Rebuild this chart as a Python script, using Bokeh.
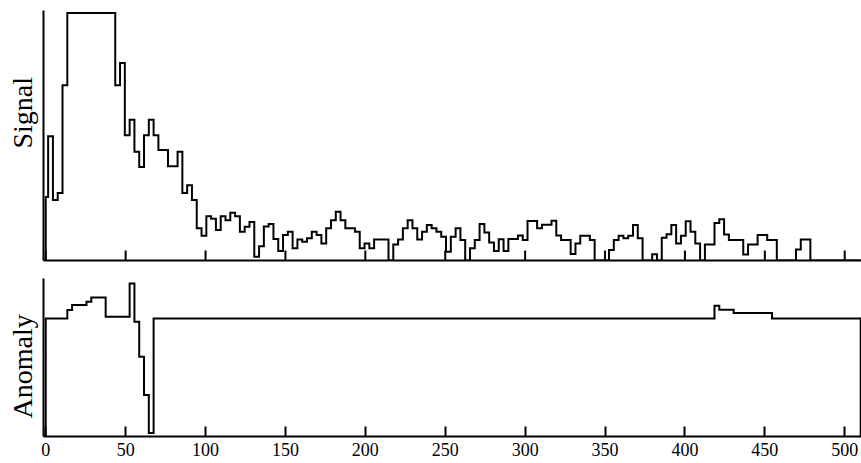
import numpy as np
from bokeh.plotting import figure
from bokeh.layouts import column
from bokeh.models import FixedTicker, Range1d, Title
from bokeh.embed import file_html
from bokeh.resources import INLINE

# ---- data ----
sample_spacing = 3  # x distance between samples
signal = [
    25.7, 50.2, 24.4, 27.3, 70.8, 100, 100, 100, 100, 100,
    100, 100, 100, 100, 100, 70.8, 79.8, 50.6, 56.9, 43.9,
    37.8, 50.6, 56.9, 50.6, 44.6, 44.6, 38.1, 38.1, 43.9, 27.3,
    30.4, 24.4, 13.0, 10.0, 17.9, 16.9, 12.3, 17.9, 16.3, 19.3,
    17.9, 11.6, 13.6, 15.6, 1.5, 5.8, 13.7, 14.7, 8.7, 3.8,
    10.3, 11.6, 4.9, 8.5, 7.6, 9.0, 11.6, 10.3, 6.9, 13.0,
    16.3, 19.7, 16.3, 13.0, 13.0, 11.6, 4.9, 6.9, 4.9, 8.5,
    8.5, 8.5, 0, 6.5, 8.5, 13.0, 16.3, 13.0, 8.5, 11.6,
    14.3, 13.0, 11.6, 9.6, 3.5, 9.6, 13.0, 8.3, 0, 4.9,
    8.3, 14.7, 11.3, 7.3, 3.8, 8.6, 3.8, 8.7, 8.7, 10.1,
    8.3, 16.0, 16.0, 13.0, 14.4, 14.4, 16.1, 10.1, 8.3, 8.3,
    2.6, 6.9, 10.0, 10.0, 8.3, 0, 0, 0, 4.2, 8.3,
    10.0, 9.0, 10.0, 14.3, 9.0, 0, 0, 2.5, 0, 9.2,
    10.6, 14.3, 6.9, 10.0, 15.9, 11.6, 6.9, 0, 6.5, 6.5,
    15.1, 16.7, 10.5, 8.3, 8.3, 8.3, 2.4, 6.5, 6.5, 10.3,
    10.3, 8.3, 8.3, 0, 0, 0, 0, 4.4, 8.5, 8.5,
    0, 0, 0, 0, 0, 0, 0, 0, 0, 0,
    0,
]
anomaly = [
    1.0, 1.0, 1.0, 1.0, 1.0, 1.071, 1.114, 1.114, 1.114, 1.142,
    1.178, 1.178, 1.178, 1.014, 1.014, 1.014, 1.014, 1.014, 1.297, 0.972,
    0.675, 0.351, 0.029, 1.0, 1.0, 1.0, 1.0, 1.0, 1.0, 1.0,
    1.0, 1.0, 1.0, 1.0, 1.0, 1.0, 1.0, 1.0, 1.0, 1.0,
    1.0, 1.0, 1.0, 1.0, 1.0, 1.0, 1.0, 1.0, 1.0, 1.0,
    1.0, 1.0, 1.0, 1.0, 1.0, 1.0, 1.0, 1.0, 1.0, 1.0,
    1.0, 1.0, 1.0, 1.0, 1.0, 1.0, 1.0, 1.0, 1.0, 1.0,
    1.0, 1.0, 1.0, 1.0, 1.0, 1.0, 1.0, 1.0, 1.0, 1.0,
    1.0, 1.0, 1.0, 1.0, 1.0, 1.0, 1.0, 1.0, 1.0, 1.0,
    1.0, 1.0, 1.0, 1.0, 1.0, 1.0, 1.0, 1.0, 1.0, 1.0,
    1.0, 1.0, 1.0, 1.0, 1.0, 1.0, 1.0, 1.0, 1.0, 1.0,
    1.0, 1.0, 1.0, 1.0, 1.0, 1.0, 1.0, 1.0, 1.0, 1.0,
    1.0, 1.0, 1.0, 1.0, 1.0, 1.0, 1.0, 1.0, 1.0, 1.0,
    1.0, 1.0, 1.0, 1.0, 1.0, 1.0, 1.0, 1.0, 1.0, 1.0,
    1.108, 1.074, 1.074, 1.074, 1.046, 1.046, 1.046, 1.046, 1.046, 1.046,
    1.046, 1.046, 1.0, 1.0, 1.0, 1.0, 1.0, 1.0, 1.0, 1.0,
    1.0, 1.0, 1.0, 1.0, 1.0, 1.0, 1.0, 1.0, 1.0, 1.0,
    1.0,
]
x_ticks = [0, 50, 100, 150, 200, 250, 300, 350, 400, 450, 500]
y_labels = ["Signal", "Anomaly"]

sample_x = np.arange(len(signal)) * sample_spacing


def step_path(x, y):
    x = np.asarray(x, float)
    y = np.asarray(y, float)
    edges = np.concatenate([[x[0]], (x[:-1] + x[1:]) / 2, [x[-1]]])
    xs = np.repeat(edges, 2)
    ys = np.concatenate([[0.0], np.repeat(y, 2), [0.0]])
    return xs, ys


AXIS_FONT = "Liberation Serif"
TICK_FONT = "Liberation Sans Narrow"
FIG_W = 861
TOP_FRAME_H = 250
TOP_Y_END = 101.0
TICK_LEN = 10

x_range = Range1d(-1.4, 510.5)


def style(p, label, label_offset):
    p.outline_line_color = None
    p.grid.visible = False
    p.background_fill_color = "white"
    p.border_fill_color = "white"
    # y axis: just the line
    p.yaxis.ticker = FixedTicker(ticks=[])
    p.yaxis.minor_tick_line_color = None
    p.yaxis.major_tick_line_color = None
    p.yaxis.major_tick_out = 0
    p.yaxis.major_tick_in = 0
    p.yaxis.major_label_standoff = 0
    p.yaxis.axis_line_width = 2
    p.yaxis.axis_line_color = "black"
    p.xaxis.axis_line_width = 2
    p.xaxis.axis_line_color = "black"
    p.xaxis.minor_tick_line_color = None
    p.add_layout(Title(text=label, align="left", offset=label_offset,
                       vertical_align="top",
                       text_font=AXIS_FONT, text_font_size="28px",
                       text_font_style="normal", text_color="black",
                       standoff=8), "left")


top = figure(width=FIG_W, height=268, x_range=x_range, y_range=Range1d(0, TOP_Y_END),
             output_backend="svg", toolbar_location=None,
             min_border_left=43, min_border_right=0, min_border_top=10,
             min_border_bottom=8)
bottom = figure(width=FIG_W, height=195, x_range=x_range, y_range=Range1d(0, 1.339),
                output_backend="svg", toolbar_location=None,
                min_border_left=43, min_border_right=0, min_border_top=10,
                min_border_bottom=27)

style(top, y_labels[0], 112)
style(bottom, y_labels[1], 18)

# top plot: axis line only, inward ticks drawn at the tick positions
top.xaxis.ticker = FixedTicker(ticks=[])
top.xaxis.major_tick_line_color = None
top.xaxis.major_label_standoff = 0
tick_h = TICK_LEN * TOP_Y_END / TOP_FRAME_H
top.segment(x0=x_ticks, y0=[0] * len(x_ticks), x1=x_ticks, y1=[tick_h] * len(x_ticks),
            line_color="black", line_width=2)

# bottom plot: inward ticks with labels
bottom.xaxis.ticker = FixedTicker(ticks=x_ticks)
bottom.xaxis.major_tick_line_width = 2
bottom.xaxis.major_tick_line_color = "black"
bottom.xaxis.major_tick_in = TICK_LEN
bottom.xaxis.major_tick_out = 0
bottom.xaxis.major_label_text_font = TICK_FONT
bottom.xaxis.major_label_text_font_size = "18px"
bottom.xaxis.major_label_text_color = "black"
bottom.xaxis.major_label_standoff = 6

sx, sy = step_path(sample_x, signal)
ax, ay = step_path(sample_x, anomaly)
top.line(sx, sy, line_color="black", line_width=2, line_join="miter")
bottom.line(ax, ay, line_color="black", line_width=2, line_join="miter")

layout = column(top, bottom, spacing=0)
open("out.html", "w").write(file_html(layout, INLINE))
